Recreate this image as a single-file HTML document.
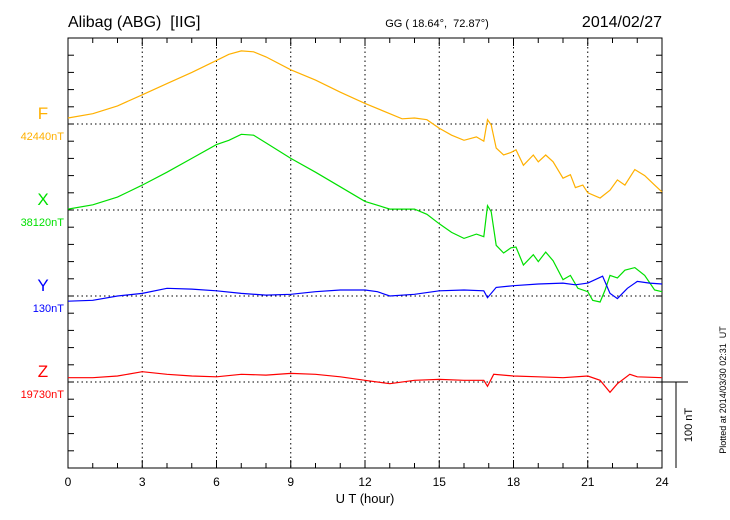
<!DOCTYPE html>
<html><head><meta charset="utf-8"><style>
body{margin:0;background:#fff;}
svg{display:block;font-family:"Liberation Sans",sans-serif;}
text{white-space:pre;}
</style></head><body>
<svg id="c" width="730" height="520">
<text x="68" y="27" font-size="16" xml:space="preserve">Alibag (ABG)  [IIG]</text>
<text x="437" y="27" font-size="11" text-anchor="middle" xml:space="preserve">GG ( 18.64°,  72.87°)</text>
<text x="662" y="27" font-size="16" text-anchor="end">2014/02/27</text>
<text x="365" y="503" font-size="13" text-anchor="middle">U T (hour)</text>
<text transform="translate(726,390) rotate(-90)" font-size="9" text-anchor="middle" xml:space="preserve">Plotted at 2014/03/30 02:31  UT</text>
<text transform="translate(692,425) rotate(-90)" font-size="11" text-anchor="middle">100 nT</text>
</svg>
<script>
const fT=[0,1,2,3,4,5,6,6.5,7,7.5,8,9,10,11,12,13,13.5,14,14.5,15,15.5,16,16.5,16.8,16.95,17.1,17.3,17.6,17.9,18.1,18.4,18.8,19,19.3,19.6,20,20.3,20.5,20.8,21,21.5,21.9,22.2,22.5,22.9,23.3,23.7,24];
const fV=[7,12,21,34,47,60,74,81,85,84,78,63,51,37,24,12,6,7,5,-5,-13,-19,-15,-20,5,-1,-28,-36,-33,-30,-48,-36,-44,-36,-44,-63,-59,-74,-71,-80,-86,-77,-65,-71,-53,-60,-71,-79];
const xT=[0,1,2,3,4,5,6,6.5,7,7.5,8,9,10,11,12,13,14,14.5,15,15.5,16,16.5,16.8,16.95,17.1,17.3,17.6,17.9,18.1,18.4,18.8,19,19.3,19.6,20,20.3,20.6,21,21.2,21.5,21.7,21.9,22.2,22.5,22.9,23.3,23.7,24];
const xV=[1,6,15,29,44,60,76,81,88,87,78,60,44,27,10,1,1,-5,-16,-26,-33,-28,-31,5,-2,-41,-50,-44,-43,-64,-52,-60,-49,-59,-81,-76,-91,-95,-105,-107,-93,-76,-79,-70,-67,-76,-93,-95];
const yT=[0,1,2,3,4,5,6,7,8,9,10,11,12,12.5,13,14,15,16,16.8,16.95,17.3,18,19,20,20.5,21,21.6,21.9,22.2,22.6,23,23.5,24];
const yV=[-6,-5,0,3,9,8,6,3,1,2,5,7,7,5,0,2,6,7,6,-2,10,12,14,15,13,15,23,3,-3,9,17,15,14];
const zT=[0,1,2,3,4,5,6,7,8,9,10,11,12,13,14,15,16,16.8,16.95,17.2,18,19,20,21,21.5,21.9,22.2,22.7,23,24];
const zV=[5,5,7,12,9,7,6,9,8,10,9,6,2,-2,2,3,2,2,-5,9,7,6,5,7,2,-12,-2,9,6,5];
const xTicks=[0,3,6,9,12,15,18,21,24];
const names=["F","X","Y","Z"];
const baseLabels=["42440nT","38120nT","130nT","19730nT"];
const L=68,R=662,T=38,B=468,bases=[124,210,296,382],pxPerNT=0.86;
const colors=["#ffb000","#00e000","#0000ff","#ff0000"];
const svg=document.getElementById('c');const NS="http://www.w3.org/2000/svg";
const sx=h=>L+(R-L)*h/24;
function mk(t,a){const e=document.createElementNS(NS,t);for(const k in a)e.setAttribute(k,a[k]);svg.appendChild(e);return e;}
xTicks.slice(1,-1).forEach(h=>{const e=mk('line',{x1:sx(h),x2:sx(h),y1:T,y2:B,stroke:'#000','stroke-dasharray':'1.5,3','stroke-width':1});

});
bases.forEach(b=>{const e=mk('line',{x1:L,x2:R,y1:b,y2:b,stroke:'#000','stroke-dasharray':'1.5,3','stroke-width':1});

});
const fr=mk('rect',{x:L,y:T,width:R-L,height:B-T,fill:'none',stroke:'#000','stroke-width':1});


for(let h=0;h<=24;h++){const len=h%3==0?8:5;
mk('line',{x1:sx(h),x2:sx(h),y1:T,y2:T+len,stroke:'#000'});mk('line',{x1:sx(h),x2:sx(h),y1:B,y2:B-len,stroke:'#000'});}
for(let y=T+(bases[0]-T)%17.2;y<B;y+=17.2){mk('line',{x1:L,x2:L+6,y1:y,y2:y,stroke:'#000'});mk('line',{x1:R,x2:R-6,y1:y,y2:y,stroke:'#000'});}
xTicks.forEach(h=>{const t=mk('text',{x:sx(h),y:486,'font-size':12,'text-anchor':'middle'});t.textContent=h;

});
mk('line',{x1:R,x2:688,y1:382,y2:382,stroke:'#000'});
mk('line',{x1:676,x2:676,y1:382,y2:468,stroke:'#000'});
const series=[[fT,fV],[xT,xV],[yT,yV],[zT,zV]];
series.forEach((s,i)=>{
 const pts=s[0].map((h,j)=>sx(h).toFixed(1)+','+(bases[i]-s[1][j]*pxPerNT).toFixed(1)).join(' ');
 const p=mk('polyline',{points:pts,fill:'none',stroke:colors[i],'stroke-width':1.2});
 
 
 const n=mk('text',{x:43,y:bases[i]-5,'font-size':17,'text-anchor':'middle',fill:colors[i]});n.textContent=names[i];
 
 
 const b=mk('text',{x:64,y:bases[i]+16,'font-size':11,'text-anchor':'end',fill:colors[i]});b.textContent=baseLabels[i];
 
 
});
</script>
</body></html>
